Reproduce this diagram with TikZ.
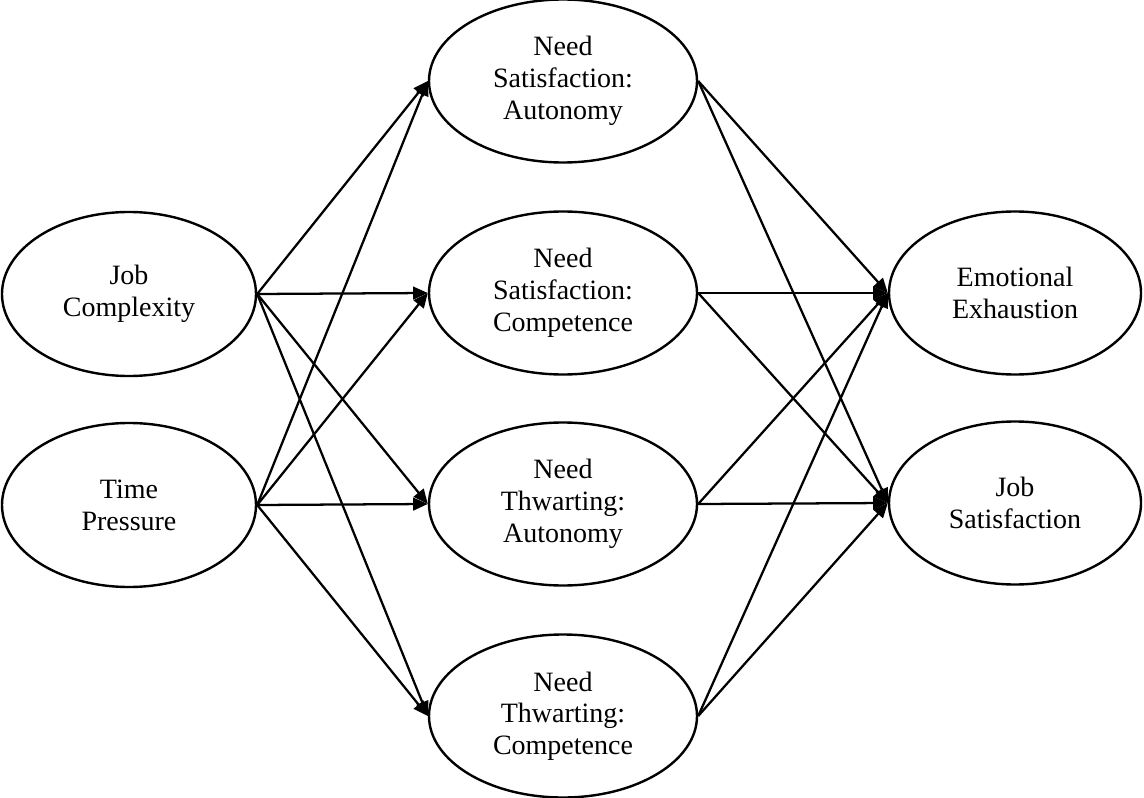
\documentclass[tikz,border=0pt]{standalone}
\usepackage{fontspec}
\setmainfont{Liberation Serif}
\usetikzlibrary{shapes.geometric,arrows.meta}
\begin{document}
\begin{tikzpicture}[x=0.75pt,y=-0.75pt,
  latent/.style={ellipse,draw,line width=1.8pt,inner sep=0pt,align=center,
    font=\fontsize{21}{23.8}\selectfont,
    execute at begin node={\rule{0pt}{20pt}}},
  lft/.style={latent,minimum width=254*0.75pt,minimum height=164*0.75pt},
  mid/.style={latent,minimum width=268*0.75pt,minimum height=163*0.75pt},
  rgt/.style={latent,minimum width=252*0.75pt,minimum height=163*0.75pt},
  path/.style={line width=1.7pt,-{Triangle[length=11pt,width=9.5pt]}}]
\useasboundingbox (0,0) rectangle (1144,798);
\node[lft] (jc) at (129,294) {Job\\Complexity};
\node[lft] (tp) at (129,505) {Time\\Pressure};
\node[mid] (nsa) at (563,81) {Need\\Satisfaction:\\Autonomy};
\node[mid] (nsc) at (563,293) {Need\\Satisfaction:\\Competence};
\node[mid] (nta) at (563,504) {Need\\Thwarting:\\Autonomy};
\node[mid] (ntc) at (563,716) {Need\\Thwarting:\\Competence};
\node[rgt] (ee) at (1015,293) {Emotional\\Exhaustion};
\node[rgt] (js) at (1015,503) {Job\\Satisfaction};
\foreach \s in {jc,tp}{
  \foreach \t in {nsa,nsc,nta,ntc}{
    \draw[path] (\s.east) -- (\t.west);
  }
}
\foreach \s in {nsa,nsc,nta,ntc}{
  \foreach \t in {ee,js}{
    \draw[path] (\s.east) -- (\t.west);
  }
}
\end{tikzpicture}
\end{document}
